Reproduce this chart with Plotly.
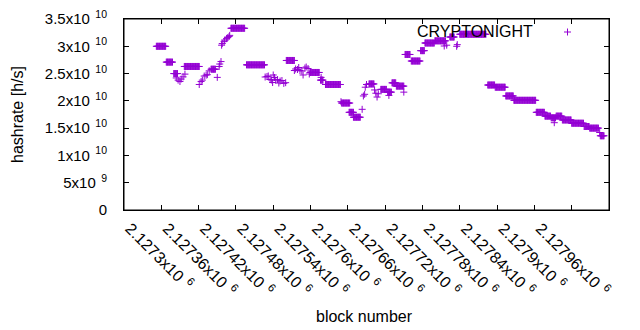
import plotly.graph_objects as go

# ---- data: runs of constant hashrate (first block, last block, hashrate in h/s)
seg_start = [2127352, 2127368, 2127380, 2127384, 2127387, 2127390, 2127392, 2127395, 2127398,
             2127397, 2127421, 2127424, 2127426, 2127429, 2127432, 2127434, 2127437, 2127440,
             2127450, 2127453, 2127454, 2127456, 2127457, 2127458, 2127461, 2127462, 2127465,
             2127467, 2127469, 2127470, 2127472, 2127497,
             2127527, 2127530, 2127532, 2127535, 2127537, 2127539, 2127540, 2127542, 2127544,
             2127547, 2127549, 2127551, 2127554, 2127557, 2127560, 2127561,
             2127574, 2127576, 2127579, 2127581, 2127583, 2127586, 2127588, 2127591, 2127593,
             2127596, 2127598, 2127599, 2127617, 2127616, 2127624, 2127649, 2127650, 2127662,
             2127669, 2127683, 2127685, 2127687, 2127688, 2127690, 2127694, 2127703, 2127705,
             2127707, 2127709, 2127713, 2127724, 2127726, 2127731, 2127738, 2127750, 2127752,
             2127762, 2127777, 2127784, 2127800, 2127815, 2127819, 2127824, 2127835, 2127836,
             2127840, 2127885, 2127897, 2127914, 2127927, 2127963, 2127977, 2127987, 2127992,
             2127995, 2128005, 2128020, 2128040, 2128049, 2128065, 2128066]
seg_end = [2127367, 2127378, 2127386, 2127384, 2127387, 2127390, 2127392, 2127395, 2127398,
           2127421, 2127421, 2127424, 2127426, 2127429, 2127432, 2127434, 2127437, 2127447,
           2127450, 2127453, 2127454, 2127456, 2127457, 2127458, 2127461, 2127462, 2127465,
           2127467, 2127469, 2127470, 2127494, 2127526,
           2127527, 2127530, 2127532, 2127535, 2127537, 2127539, 2127540, 2127542, 2127544,
           2127547, 2127549, 2127551, 2127554, 2127557, 2127560, 2127574,
           2127574, 2127576, 2127579, 2127581, 2127583, 2127586, 2127588, 2127591, 2127593,
           2127596, 2127598, 2127614, 2127617, 2127620, 2127648, 2127649, 2127663, 2127669,
           2127680, 2127683, 2127685, 2127687, 2127688, 2127690, 2127702, 2127703, 2127705,
           2127707, 2127709, 2127722, 2127730, 2127726, 2127737, 2127750, 2127750, 2127760,
           2127776, 2127783, 2127799, 2127817, 2127815, 2127819, 2127831, 2127835, 2127836,
           2127882, 2127896, 2127913, 2127926, 2127962, 2127976, 2127986, 2127994, 2127992,
           2128004, 2128019, 2128039, 2128048, 2128063, 2128065, 2128072]
seg_rate = [3.00e10, 2.71e10, 2.50e10, 2.42e10, 2.38e10, 2.355e10, 2.40e10, 2.44e10, 2.49e10,
            2.63e10, 2.30e10, 2.355e10, 2.38e10, 2.455e10, 2.47e10, 2.48e10, 2.55e10, 2.58e10,
            2.43e10, 2.63e10, 2.675e10, 2.72e10, 3.02e10, 3.05e10, 3.09e10, 3.115e10, 3.14e10,
            3.16e10, 3.18e10, 3.20e10, 3.33e10, 2.66e10,
            2.437e10, 2.446e10, 2.456e10, 2.391e10, 2.382e10, 2.336e10, 2.474e10, 2.428e10, 2.38e10,
            2.39e10, 2.327e10, 2.364e10, 2.373e10, 2.32e10, 2.333e10, 2.74e10,
            2.556e10, 2.584e10, 2.575e10, 2.611e10, 2.556e10, 2.547e10, 2.474e10, 2.602e10, 2.62e10,
            2.593e10, 2.492e10, 2.52e10, 2.43e10, 2.38e10, 2.30e10, 1.985e10, 1.96e10, 1.79e10,
            1.70e10, 1.845e10, 2.09e10, 2.12e10, 2.25e10, 2.30e10, 2.31e10, 2.20e10, 2.14e10,
            2.07e10, 2.13e10, 2.21e10, 2.16e10, 2.10e10, 2.33e10, 2.27e10, 2.16e10, 2.85e10,
            2.73e10, 2.92e10, 3.06e10, 3.10e10, 3.005e10, 3.02e10, 3.17e10, 3.00e10, 3.03e10,
            3.22e10, 2.29e10, 2.25e10, 2.09e10, 2.01e10, 1.79e10, 1.72e10, 1.69e10, 1.60e10,
            1.72e10, 1.65e10, 1.59e10, 1.53e10, 1.50e10, 1.42e10, 1.36e10]

x_tick_vals = [2127300, 2127360, 2127420, 2127480, 2127540, 2127600, 2127660,
               2127720, 2127780, 2127840, 2127900, 2127960, 2128020, 2128080]
x_tick_text = ["2.1273", "2.12736", "2.12742", "2.12748", "2.12754", "2.1276", "2.12766",
               "2.12772", "2.12778", "2.12784", "2.1279", "2.12796", "2.12802", "2.12808"]
y_tick_vals = [0, 5e9, 1e10, 1.5e10, 2e10, 2.5e10, 3e10, 3.5e10]
y_tick_text = ["0", "5x10", "1x10", "1.5x10", "2x10", "2.5x10", "3x10", "3.5x10"]
y_tick_exp = ["", "9", "10", "10", "10", "10", "10", "10"]
series_name = "CRYPTONIGHT"

# expand runs into one point per block
blocks, rates = [], []
for s, e, r in zip(seg_start, seg_end, seg_rate):
    for b in range(s, e + 1):
        blocks.append(b)
        rates.append(r)

PURPLE = "#9400d3"
FONT = "Liberation Sans"
SP = "\u00a0\u200a"
W, H = 640, 330
L, R, T, B = 124, 31, 19, 120
pw, ph = W - L - R, H - T - B

fig = go.Figure()
fig.add_trace(go.Scatter(
    x=blocks, y=rates, mode="markers", name=series_name, showlegend=False,
    marker=dict(symbol="cross-thin-open", size=5, color=PURPLE,
                line=dict(color=PURPLE, width=1)),
))

def px2paper(px, py):
    return (px - L) / pw, (H - B - py) / ph

ax_common = dict(showline=True, linecolor="black", linewidth=1, mirror="ticks",
                 ticks="inside", ticklen=5, tickcolor="black", showgrid=False,
                 zeroline=False, automargin=False)

fig.update_xaxes(range=[x_tick_vals[0], x_tick_vals[-1]], tickmode="array",
                 tickvals=x_tick_vals,
                 ticktext=[t + "x10" + SP + "<sup>6</sup>" for t in x_tick_text],
                 tickangle=45, ticklabelstandoff=2, ticklabelshift=6,
                 tickfont=dict(family=FONT, size=16, color="black"), **ax_common)
fig.update_yaxes(range=[0, 3.5e10], tickmode="array", tickvals=y_tick_vals,
                 ticktext=[t + (SP + "<sup>" + e + "</sup>" if e else "")
                           for t, e in zip(y_tick_text, y_tick_exp)],
                 ticklabelstandoff=13,
                 tickfont=dict(family=FONT, size=15, color="black"), **ax_common)

# plot frame
fig.add_shape(type="rect", xref="paper", yref="paper", x0=0, x1=1, y0=0, y1=1,
              line=dict(color="black", width=1), layer="above")

lx, ly = px2paper(535, 31.5)
yl_x, yl_y = px2paper(17, 115)
xl_x, xl_y = px2paper(364, 316)
fig.add_annotation(text=series_name, x=lx, y=ly, xref="paper", yref="paper",
                   xanchor="right", yanchor="middle", showarrow=False,
                   font=dict(family=FONT, size=16, color="black"))
fig.add_annotation(text="hashrate [h/s]", x=yl_x, y=yl_y, xref="paper", yref="paper",
                   textangle=-90, xanchor="center", yanchor="middle", showarrow=False,
                   font=dict(family=FONT, size=16, color="black"))
fig.add_annotation(text="block number", x=xl_x, y=xl_y, xref="paper", yref="paper",
                   xanchor="center", yanchor="middle", showarrow=False,
                   font=dict(family=FONT, size=16, color="black"))

# legend key sample (+) to the right of the label, gnuplot style
kx, ky = px2paper(567.5, 32)
dx, dy = 3.5 / pw, 3.5 / ph
fig.add_shape(type="line", xref="paper", yref="paper", x0=kx - dx, x1=kx + dx, y0=ky, y1=ky,
              line=dict(color=PURPLE, width=1))
fig.add_shape(type="line", xref="paper", yref="paper", x0=kx, x1=kx, y0=ky - dy, y1=ky + dy,
              line=dict(color=PURPLE, width=1))

fig.update_layout(width=W, height=H, margin=dict(l=L, r=R, t=T, b=B),
                  paper_bgcolor="white", plot_bgcolor="white", showlegend=False)
fig.write_html("out.html", config={"displayModeBar": False},
               post_script="document.body.style.margin='0';document.body.style.overflow='hidden';")
